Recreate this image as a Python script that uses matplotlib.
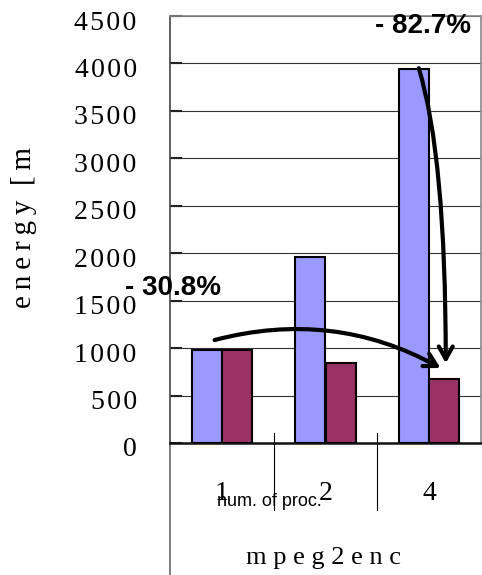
import matplotlib.pyplot as plt
import matplotlib.transforms as mtransforms
import numpy as np

# values
procs = ['1', '2', '4']
energy_a = [980, 1960, 3940]   # blue bars
energy_b = [980, 843, 674]     # purple bars
yticks = [0, 500, 1000, 1500, 2000, 2500, 3000, 3500, 4000, 4500]
bench = 'mpeg2enc'
xname = 'num. of proc.'
ylab = 'energy [m'
notes = ['- 30.8%', '- 82.7%']

serif = ['Liberation Serif', 'DejaVu Serif']
sans = ['Liberation Sans', 'DejaVu Sans']
hs = '\u200a'

W, H = 482, 575
fig = plt.figure(figsize=(W / 100, H / 100), dpi=100)
ax = fig.add_axes([170 / W, 1 - 443 / H, 311 / W, 427 / H])

x = np.arange(len(procs))
bw = 0.29
ax.bar(x - bw / 2, energy_a, bw, color='#9999FF', edgecolor='black', lw=1.5, zorder=3)
ax.bar(x + bw / 2, energy_b, bw, color='#993366', edgecolor='black', lw=1.5, zorder=3)

ax.set_xlim(-0.5, 2.5)
ax.set_ylim(0, 4500)
ax.set_yticks(yticks)
ax.set_yticklabels([hs.join(str(v)) for v in yticks], family=serif, fontsize=20)
ax.tick_params(axis='y', direction='in', length=8.5, width=1.5, color='#222222', pad=24)
shift = mtransforms.ScaledTranslation(0, -4 / 100, fig.dpi_scale_trans)
for lab in ax.get_yticklabels():
    lab.set_transform(lab.get_transform() + shift)
ax.grid(axis='y', color='#333333', lw=0.8, zorder=0)

ax.set_xticks(x)
ax.set_xticklabels(procs, family=serif, fontsize=20)
ax.tick_params(axis='x', length=0, pad=36)
for lab in ax.get_xticklabels():
    lab.set_va('center')

for s in ['top', 'right']:
    ax.spines[s].set_color('#888888')
    ax.spines[s].set_linewidth(1.2)
ax.spines['left'].set_color('#444444')
ax.spines['left'].set_linewidth(1.2)
ax.spines['bottom'].set_color('#111111')
ax.spines['bottom'].set_linewidth(1.8)

# left frame line continues down to the bottom of the figure
ax.plot([0, 0], [0, -0.31], transform=ax.transAxes, color='#666666', lw=1.2, clip_on=False)
# category separators under the axis
for sx in [0.5, 1.5]:
    ax.plot([sx, sx], [0.023, -0.157], transform=ax.get_xaxis_transform(),
            color='black', lw=0.8, clip_on=False)

ax.text(0.46, -0.136, xname, transform=ax.get_xaxis_transform(), family=sans,
        fontsize=13, ha='center', va='center')
ax.text(0.977, -0.269, ' '.join(bench), transform=ax.get_xaxis_transform(),
        family=serif, fontsize=19, ha='center', va='center')

fig.text(24 / W, 1 - 227 / H, '\u2009'.join('energy') + '  ' + '\u2009'.join('[m'),
         family=serif, fontsize=21, rotation=90, ha='center', va='center')

fig.text(125 / W, 1 - 295 / H, notes[0], family=sans, fontsize=20, weight='bold')
fig.text(375 / W, 1 - 33 / H, notes[1], family=sans, fontsize=20, weight='bold')

arrow = dict(arrowstyle='->,head_length=0.9,head_width=0.5', lw=3, color='black',
             shrinkA=0, shrinkB=0)
ax.annotate('', xy=(2.11, 790), xytext=(-0.07, 1085),
            arrowprops=dict(arrow, connectionstyle='arc3,rad=-0.2'))
ax.annotate('', xy=(2.16, 840), xytext=(1.9, 3950),
            arrowprops=dict(arrow, connectionstyle='angle3,angleA=-73,angleB=90'))

fig.savefig('out.png', dpi=100)
